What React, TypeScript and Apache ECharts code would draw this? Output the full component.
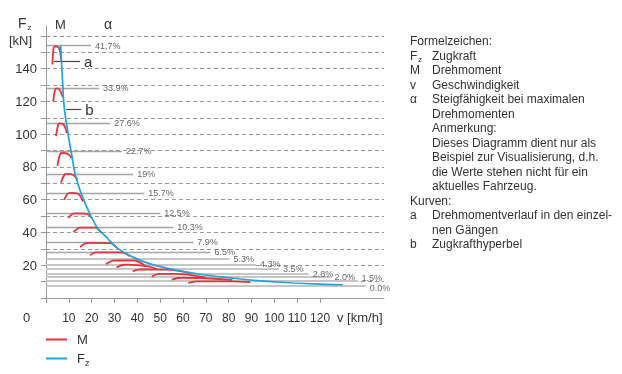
import React, { useEffect, useRef } from 'react';
import * as echarts from 'echarts';

// Axis tick values
const xTickValues = [0, 10, 20, 30, 40, 50, 60, 70, 80, 90, 100, 110, 120];
const xLabelValues = [10, 20, 30, 40, 50, 60, 70, 80, 90, 100, 110, 120];
const yTickValues = [0, 10, 20, 30, 40, 50, 60, 70, 80, 90, 100, 110, 120, 130, 140, 150, 160];
const yLabelValues = [20, 40, 60, 80, 100, 120, 140];

// Gradeability (alpha) lines: label, force level [kN], end speed [km/h]
const alphaLabels = ['41,7%', '33.9%', '27.6%', '22.7%', '19%', '15.7%', '12.5%', '10.3%', '7.9%', '6.5%', '5.3%', '4.3%', '3.5%', '2.8%', '2.0%', '1.5%', '0.0%'];
const alphaForce = [154, 128, 106.6, 89.7, 75.7, 64, 52, 43.3, 34.1, 28.2, 24, 20.5, 17.7, 14.9, 12.8, 10.4, 7.3];
const alphaSpeedEnd = [19.7, 23.2, 28.1, 33.3, 38.2, 43, 50, 55.7, 64.5, 72, 80.3, 92, 102, 115, 124.6, 136.4, 140];

// Torque curves (M) per gear: [v km/h, F kN]
const gearCurves = [
  [[2.8, 142.5], [3.3, 152.4], [3.9, 153.6], [5.7, 152.6], [6.6, 145]],
  [[3.2, 119.7], [3.9, 126.8], [4.8, 127.9], [6.1, 126.8], [7.3, 122.6]],
  [[4.4, 98.8], [5.4, 106.1], [6.1, 106.6], [7.9, 105.5], [9.1, 100.7]],
  [[5, 80.6], [6.4, 88.3], [7.2, 88.5], [9.8, 87.7], [11.3, 85.3]],
  [[6.6, 70.4], [8.3, 75.5], [9.2, 75.7], [12, 75.1], [13.7, 72.1]],
  [[7.9, 59.9], [9.8, 64], [10.7, 64.2], [14.2, 63.5], [16.1, 58.9]],
  [[9.8, 48.8], [11.7, 51.4], [12.7, 51.6], [17.9, 51.4], [20, 48.8]],
  [[12, 40.2], [14.2, 42.7], [15.4, 43], [21.5, 43], [24.4, 39.6]],
  [[14.9, 31.1], [17.5, 33.5], [18.9, 33.7], [28.1, 33.5], [31, 30.5]],
  [[19.3, 26], [21.5, 27.8], [22.8, 27.9], [33.2, 27.8], [36.8, 25.4]],
  [[26.3, 20.8], [29.4, 22.8], [30.7, 22.9], [38.3, 22.9], [43.4, 19.7]],
  [[30.9, 18.7], [33.9, 20.3], [35.5, 20.4], [44.7, 19.3], [48.6, 17.7]],
  [[38, 16.3], [40.5, 17.3], [42, 17.4], [53, 17.3], [63.2, 15.2]],
  [[46.4, 13.2], [49.3, 14.7], [50.9, 14.7], [56.6, 14.7], [69.7, 12.6]],
  [[55.1, 11.2], [58, 12.2], [59.6, 12.3], [67.5, 12.2], [81.6, 10.9]],
  [[62.3, 9.2], [66.1, 10.2], [67.5, 10.2], [80.7, 10.2], [89.5, 9.7]],
];

// Traction hyperbola (Fz): [v km/h, F kN]
const hyperbola = [
  [6.4, 154], [7.3, 131], [8.0, 116], [9.8, 99], [11.3, 87], [12.7, 76], [15.2, 64.5],
  [19.3, 51], [22.9, 42], [26.6, 37], [28.1, 34.5], [31.7, 30], [38.3, 24.8], [45.6, 20.8],
  [55.8, 17.3], [67.5, 14.5], [80.7, 12.3], [89.5, 11], [102.6, 9.6], [117, 8.6], [130, 8.1],
];

// Annotation pointers a / b: [label, force, v start, v end]
const pointerLabels = ['a', 'b'];
const pointerForce = [144.5, 115.3];
const pointerStart = [3.5, 8.8];
const pointerEnd = [14.9, 15.4];

// Right side explanation text
const notesSymbols = ['', 'F', 'M', 'v', 'α', '', '', '', '', '', '', '', 'a', '', 'b'];
const notesTexts = [
  'Formelzeichen:', 'Zugkraft', 'Drehmoment', 'Geschwindigkeit', 'Steigfähigkeit bei maximalen',
  'Drehmomenten', 'Anmerkung:', 'Dieses Diagramm dient nur als', 'Beispiel zur Visualisierung, d.h.',
  'die Werte stehen nicht für ein', 'aktuelles Fahrzeug.', 'Kurven:', 'Drehmomentverlauf in den einzel-',
  'nen Gängen', 'Zugkrafthyperbel',
];
const notesHeader = [true, false, false, false, false, false, false, false, false, false, false, true, false, false, false];

const FONT = '"Liberation Sans", Arial, sans-serif';
const TXT = '#333';
const RED = '#e8323c';
const BLUE = '#21a3de';

export default function App() {
  const ref = useRef<HTMLDivElement>(null);
  useEffect(() => {
    if (!ref.current) return;
    const chart = echarts.init(ref.current, null, { renderer: 'svg' });

    const graphics: any[] = [
      { type: 'text', left: 18, top: 16, style: { text: 'F', fontSize: 14, fill: TXT, fontFamily: FONT } },
      { type: 'text', left: 27.5, top: 23, style: { text: 'z', fontSize: 8, fill: TXT, fontFamily: FONT } },
      { type: 'text', left: 9, top: 34, style: { text: '[kN]', fontSize: 13, fill: TXT, fontFamily: FONT } },
      { type: 'text', left: 55, top: 18, style: { text: 'M', fontSize: 13, fill: TXT, fontFamily: FONT } },
      { type: 'text', left: 104, top: 17, style: { text: 'α', fontSize: 14, fill: TXT, fontFamily: FONT } },
      { type: 'text', left: 23, top: 311, style: { text: '0', fontSize: 13, fill: TXT, fontFamily: FONT } },
      { type: 'text', left: 337, top: 311, style: { text: 'v [km/h]', fontSize: 13, fill: TXT, fontFamily: FONT } },
    ];
    const lh = 14.5;
    notesTexts.forEach((t, i) => {
      const y = 35 + i * lh;
      graphics.push({
        type: 'text', left: notesHeader[i] ? 410 : 432, top: y,
        style: { text: t, fontSize: 12, fill: TXT, fontFamily: FONT },
      });
      if (notesSymbols[i]) {
        graphics.push({
          type: 'text', left: 410, top: y,
          style: { text: notesSymbols[i], fontSize: 12, fill: TXT, fontFamily: FONT },
        });
        if (notesSymbols[i] === 'F') {
          graphics.push({
            type: 'text', left: 418, top: y + 6,
            style: { text: 'z', fontSize: 8, fill: TXT, fontFamily: FONT },
          });
        }
      }
    });

    const series: any[] = [];
    series.push({
      name: 'alpha', type: 'line', data: [], silent: true, z: 1,
      markLine: {
        symbol: ['none', 'none'], silent: true, animation: false, z: 1,
        label: { show: true, position: 'end', formatter: '{b}', fontSize: 9, color: '#666', fontFamily: FONT, distance: 4 },
        data: alphaForce.map((f, i) => [
          {
            name: alphaLabels[i], coord: [0, f],
            label: alphaLabels[i] === '1.5%' ? { offset: [0, -3] } : alphaLabels[i] === '0.0%' ? { offset: [0, 2] } : {},
            lineStyle: f >= 26
              ? { color: '#a5a5a5', width: 1.4, type: 'solid' }
              : { color: '#c6c6c6', width: 2.2, type: 'solid' },
          },
          { coord: [alphaSpeedEnd[i], f] },
        ]),
      },
    });
    series.push({
      name: 'pointer', type: 'line', data: [], silent: true, z: 4,
      markLine: {
        symbol: ['none', 'none'], silent: true, animation: false, z: 4,
        lineStyle: { color: '#444', width: 1.2, type: 'solid' },
        label: { show: true, position: 'end', formatter: '{b}', fontSize: 15, color: TXT, fontFamily: FONT, distance: 4 },
        data: pointerForce.map((f, i) => [
          { name: pointerLabels[i], coord: [pointerStart[i], f] },
          { coord: [pointerEnd[i], f] },
        ]),
      },
    });
    gearCurves.forEach((g) => {
      series.push({
        name: 'M', type: 'line', data: g, smooth: 0.35, showSymbol: false, symbol: 'none', z: 3,
        lineStyle: { color: RED, width: 1.8 }, itemStyle: { color: RED },
      });
    });
    series.push({
      name: 'Fz', type: 'line', data: hyperbola, smooth: 0.4, showSymbol: false, symbol: 'none', z: 5,
      lineStyle: { color: BLUE, width: 1.7 }, itemStyle: { color: BLUE },
    });

    chart.setOption({
      animation: false,
      textStyle: { fontFamily: FONT },
      grid: { left: 46, right: 238, top: 26, bottom: 76, containLabel: false },
      legend: {
        orient: 'vertical', left: 46, top: 333, itemWidth: 21, itemHeight: 2, icon: 'rect', itemGap: 4,
        padding: 0,
        data: ['M', 'Fz'],
        formatter: (n: string) => (n === 'Fz' ? '{m|F}{s|z}' : '{m|' + n + '}'),
        textStyle: {
          color: TXT, fontSize: 13, padding: [0, 0, 0, 5],
          rich: {
            m: { fontSize: 13, color: TXT, fontFamily: FONT, lineHeight: 16 },
            s: { fontSize: 9, color: TXT, fontFamily: FONT, lineHeight: 16, padding: [8, 0, 0, 0] },
          },
        },
      },
      xAxis: {
        type: 'value', min: 0, max: 148,
        axisLine: { show: true, lineStyle: { color: '#999', width: 1 } },
        axisTick: { show: true, length: 5, lineStyle: { color: '#999' }, customValues: xTickValues },
        axisLabel: { color: TXT, fontSize: 12, margin: 14, customValues: xLabelValues, fontFamily: FONT },
        splitLine: { show: false },
      },
      yAxis: {
        type: 'value', min: 0, max: 166,
        axisLine: { show: true, lineStyle: { color: '#999', width: 1 } },
        axisTick: { show: true, length: 5, lineStyle: { color: '#999' }, customValues: yTickValues },
        axisLabel: { color: TXT, fontSize: 13, margin: 9, customValues: yLabelValues, fontFamily: FONT },
        splitLine: { show: true, lineStyle: { color: '#999', type: [4, 3], width: 1 } },
      },
      graphic: graphics,
      series,
    });
    return () => chart.dispose();
  }, []);
  return <div ref={ref} style={{ position: 'fixed', left: 0, top: 0, width: 622, height: 374 }} />;
}
